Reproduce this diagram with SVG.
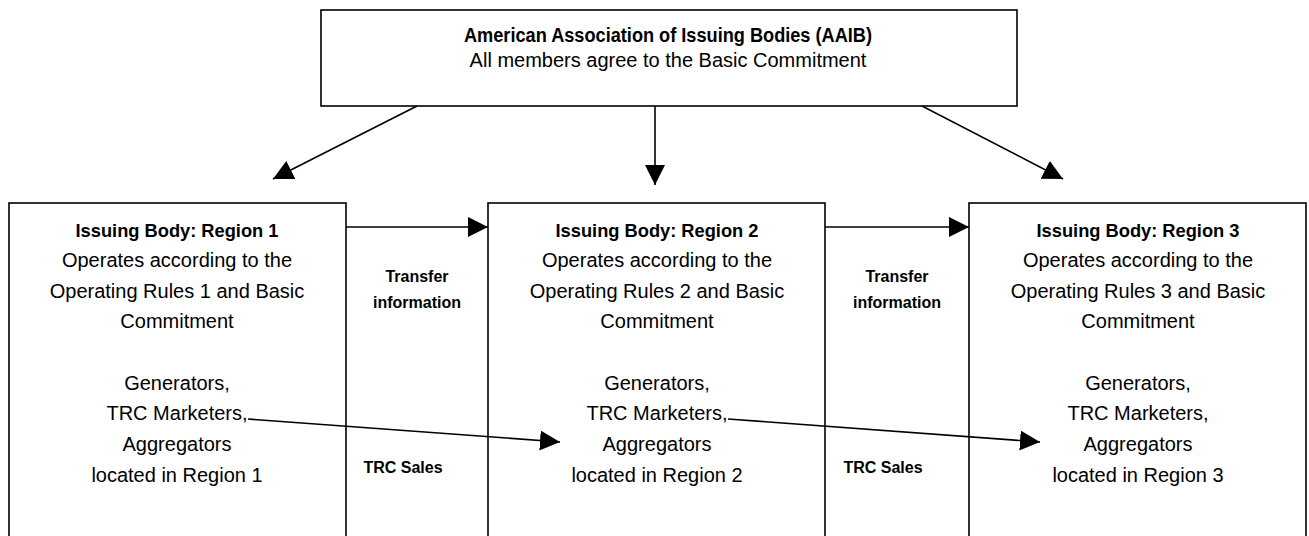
<svg xmlns="http://www.w3.org/2000/svg" width="1309" height="536" viewBox="0 0 1309 536">
<style>
.box{fill:#fff;stroke:#000;stroke-width:1.6}
.ln{stroke:#000;stroke-width:1.6;fill:none;marker-end:url(#ah)}
text{font-family:"Liberation Sans",Arial,sans-serif;fill:#000;text-anchor:middle}
.t{font-size:20px}
.h{font-size:19px;font-weight:bold}
.lb{font-size:16px;font-weight:bold}
</style>
<defs>
<marker id="ah" markerUnits="userSpaceOnUse" markerWidth="20" markerHeight="20" refX="20" refY="10" orient="auto">
<path d="M0,0 L20,10 L0,20 z" fill="#000"/>
</marker>
</defs>
<g id="aaib">
<rect class="box" x="321" y="10" width="696" height="96"/>
<text class="t" x="668" y="42" font-weight="bold" textLength="408" lengthAdjust="spacingAndGlyphs">American Association of Issuing Bodies (AAIB)</text>
<text class="t" x="668" y="67">All members agree to the Basic Commitment</text>
</g>
<g id="region1">
<rect class="box" x="9" y="203" width="337" height="345"/>
<text class="h" x="177" y="237" textLength="203" lengthAdjust="spacingAndGlyphs">Issuing Body: Region 1</text>
<text class="t" x="177" y="267">Operates according to the</text>
<text class="t" x="177" y="298">Operating Rules 1 and Basic</text>
<text class="t" x="177" y="328">Commitment</text>
<text class="t" x="177" y="390">Generators,</text>
<text class="t" x="177" y="420">TRC Marketers,</text>
<text class="t" x="177" y="451">Aggregators</text>
<text class="t" x="177" y="482">located in Region 1</text>
</g>
<g id="region2">
<rect class="box" x="488" y="203" width="337" height="345"/>
<text class="h" x="657" y="237" textLength="203" lengthAdjust="spacingAndGlyphs">Issuing Body: Region 2</text>
<text class="t" x="657" y="267">Operates according to the</text>
<text class="t" x="657" y="298">Operating Rules 2 and Basic</text>
<text class="t" x="657" y="328">Commitment</text>
<text class="t" x="657" y="390">Generators,</text>
<text class="t" x="657" y="420">TRC Marketers,</text>
<text class="t" x="657" y="451">Aggregators</text>
<text class="t" x="657" y="482">located in Region 2</text>
</g>
<g id="region3">
<rect class="box" x="969" y="203" width="337" height="345"/>
<text class="h" x="1138" y="237" textLength="203" lengthAdjust="spacingAndGlyphs">Issuing Body: Region 3</text>
<text class="t" x="1138" y="267">Operates according to the</text>
<text class="t" x="1138" y="298">Operating Rules 3 and Basic</text>
<text class="t" x="1138" y="328">Commitment</text>
<text class="t" x="1138" y="390">Generators,</text>
<text class="t" x="1138" y="420">TRC Marketers,</text>
<text class="t" x="1138" y="451">Aggregators</text>
<text class="t" x="1138" y="482">located in Region 3</text>
</g>
<g id="connectors">
<line class="ln" x1="417" y1="106" x2="273" y2="179"/>
<line class="ln" x1="655" y1="106" x2="655" y2="185"/>
<line class="ln" x1="922" y1="106" x2="1063" y2="179"/>
<line class="ln" x1="346" y1="227" x2="488" y2="227"/>
<line class="ln" x1="825" y1="227" x2="969" y2="227"/>
<line class="ln" x1="248" y1="419" x2="560" y2="442"/>
<line class="ln" x1="728" y1="419" x2="1040" y2="442"/>
</g>
<g id="labels">
<text class="lb" x="417" y="282">Transfer</text>
<text class="lb" x="417" y="308">information</text>
<text class="lb" x="897" y="282">Transfer</text>
<text class="lb" x="897" y="308">information</text>
<text class="lb" x="403" y="473">TRC Sales</text>
<text class="lb" x="883" y="473">TRC Sales</text>
</g>
</svg>
